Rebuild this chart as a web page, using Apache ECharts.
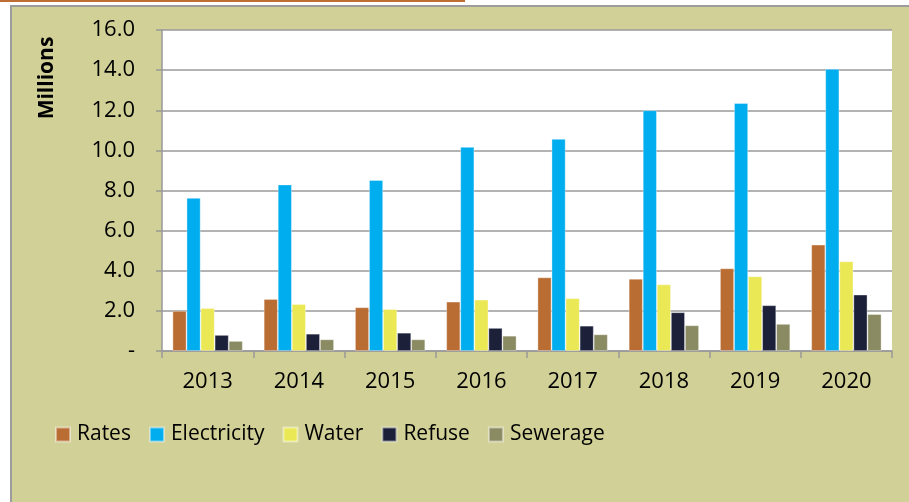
<!DOCTYPE html>
<html>
<head>
<meta charset="utf-8">
<script src="https://cdn.jsdelivr.net/npm/echarts@6/dist/echarts.min.js"></script>
<style>
html,body{margin:0;padding:0;background:#fff;}
#chart{width:909px;height:502px;}
</style>
</head>
<body>
<div id="chart"></div>
<script>
var categories = ['2013','2014','2015','2016','2017','2018','2019','2020'];
var rates       = [2.00, 2.59, 2.18, 2.46, 3.67, 3.60, 4.12, 5.30];
var electricity = [7.63, 8.30, 8.52, 10.17, 10.57, 12.00, 12.36, 14.06];
var water       = [2.14, 2.34, 2.09, 2.56, 2.63, 3.32, 3.72, 4.47];
var refuse      = [0.80, 0.86, 0.91, 1.15, 1.26, 1.93, 2.28, 2.81];
var sewerage    = [0.50, 0.58, 0.58, 0.76, 0.83, 1.28, 1.35, 1.84];
var seriesNames = ['Rates','Electricity','Water','Refuse','Sewerage'];
var yTicks = [0, 2, 4, 6, 8, 10, 12, 14, 16];

var colors = ['#B96D33','#00ADEF','#EBE855','#1C2039','#8A8A63'];
var seriesData = [rates, electricity, water, refuse, sewerage];
var FONT = '"Open Sans", "Liberation Sans", sans-serif';

var chart = echarts.init(document.getElementById('chart'), null, {renderer:'canvas'});
chart.setOption({
  animation: false,
  backgroundColor: '#ffffff',
  color: colors,
  graphic: [
    { type: 'rect', z: -10, shape: {x: 11, y: 6, width: 920, height: 520},
      style: {fill: '#D1D096', stroke: '#9C9C9C', lineWidth: 2} },
    { type: 'rect', z: -9, shape: {x: 0, y: 0, width: 465, height: 2},
      style: {fill: '#BE6E32'} },
    { type: 'text', rotation: Math.PI/2, z: 10, x: 47, y: 78,
      style: {text: 'Millions', font: 'bold 21px ' + FONT, fill: '#000', textAlign: 'center', textVerticalAlign: 'middle'} }
  ],
  grid: {
    left: 162, right: 17, top: 30, bottom: 151,
    show: true, backgroundColor: '#ffffff', borderWidth: 0
  },
  legend: {
    left: 55, top: 424, padding: 0,
    itemWidth: 14, itemHeight: 14, itemGap: 18,
    icon: 'rect',
    textStyle: {fontFamily: FONT, fontSize: 21, color: '#000', padding: [0,0,0,2]},
    data: seriesNames
  },
  xAxis: {
    type: 'category',
    data: categories,
    axisLine: {show: true, lineStyle: {color: '#999', width: 1.5}},
    axisTick: {show: true, length: 7, lineStyle: {color: '#999', width: 1.5}},
    axisLabel: {fontFamily: FONT, fontSize: 22, color: '#000', margin: 20}
  },
  yAxis: {
    type: 'value',
    min: 0, max: 16, interval: 2,
    axisLine: {show: true, lineStyle: {color: '#999', width: 1.5}},
    axisTick: {show: true, length: 6, lineStyle: {color: '#999', width: 1.5}},
    axisLabel: {
      fontFamily: FONT, fontSize: 22, color: '#000', margin: 27,
      formatter: function (v) { return yTicks.indexOf(v) === 0 ? '-' : v.toFixed(1); }
    },
    splitLine: {show: true, lineStyle: {color: '#9a9a9a', width: 1.5}}
  },
  series: seriesNames.map(function (name, i) {
    return {
      name: name, type: 'bar', data: seriesData[i],
      barGap: '0%', barCategoryGap: '23%',
      itemStyle: {color: colors[i], borderColor: 'rgba(255,255,255,0.45)', borderWidth: 0.8}
    };
  })
});
</script>
</body>
</html>
